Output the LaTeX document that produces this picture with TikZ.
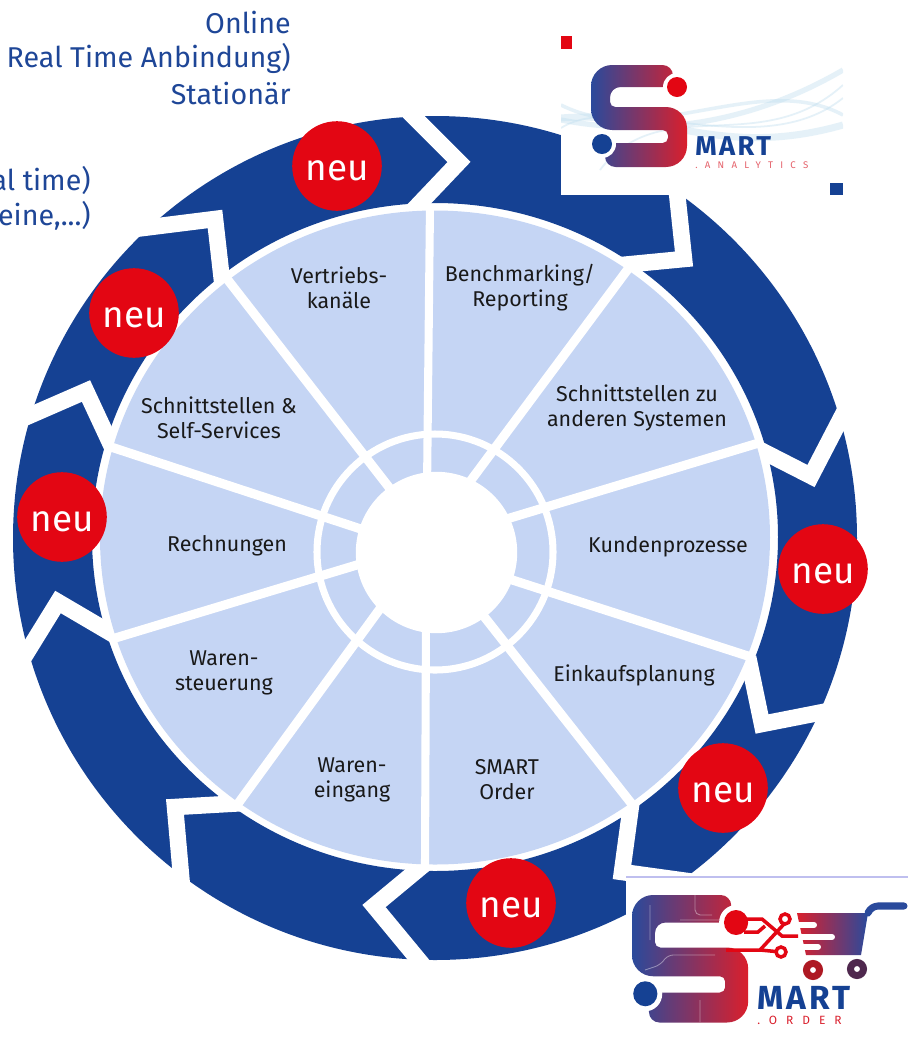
\documentclass[tikz,border=0pt]{standalone}
\usepackage{fontspec}
\setmainfont{Fira Sans}
\newfontfamily\logofont[LetterSpace=75]{Fira Sans}
\newfontfamily\martfont[LetterSpace=9]{Fira Sans}
\definecolor{ringblue}{HTML}{154193}
\definecolor{sectorblue}{HTML}{C5D5F4}
\definecolor{badgered}{HTML}{E30613}
\definecolor{headblue}{HTML}{1E4697}
\definecolor{logoblue}{HTML}{2A4A9C}
\definecolor{logored}{HTML}{DA1F2C}
\definecolor{wavecol}{HTML}{BFDDEE}
\tikzset{
  gap/.style={draw=white, line width=9.4pt, miter limit=10, shorten <=-8pt, shorten >=-8pt},
  spoke/.style={draw=white, line width=5.2pt},
  sector/.style={font=\fontsize{12.2}{14.2}\selectfont, text=black!90, align=center},
  badge/.style={circle, fill=badgered, text=white, minimum size=51pt, inner sep=0pt, font=\fontsize{21}{21}\selectfont},
  headline/.style={font=\fontsize{16.3}{20}\selectfont, text=headblue, anchor=east, inner sep=0pt},
  wave/.style={draw=wavecol, line width=#1, opacity=.4},
}
\newcommand{\logoS}{
  \path [left color=logoblue, right color=logored]
    [rounded corners=12pt] (82,0) -- (0,0) -- (0,65)
    [rounded corners=3pt] -- (77,65) -- (77,78)
    [rounded corners=6pt] -- (14,78) -- (14,102)
    [rounded corners=12pt] -- (96,102) -- (96,42)
    [rounded corners=3pt] -- (19,42)
    [rounded corners=6pt] -- (19,22) -- (82,22) -- cycle;
  \fill [white] (86,22) circle (14) (11,79) circle (14);
  \fill [badgered] (86,22) circle (10);
  \fill [ringblue] (11,79) circle (10);
}
\begin{document}
\begin{tikzpicture}[x=.02cm,y=-.02cm]
  \useasboundingbox (0,0) rectangle (908,1039);

  \fill [ringblue, even odd rule] (435,538) circle (422) (435,537) ellipse (343 and 334);
  \foreach \xa/\ya/\xb/\yb/\xc/\yc in {151/227/215/219/221/272, 414/117/459/162/421/202,
    677/193/684/259/632/264, 839/422/811/476/766/453, 818/713/762/724/751/671,
    680/880/622/872/630/813, 417/958/374/906/415/872, 181/875/175/807/227/804,
    29/649/58/602/104/629, 31/415/86/391/106/434}
    \draw [gap] (\xa,\ya) -- (\xb,\yb) -- (\xc,\yc);

  \fill [sectorblue] (435,537.5) ellipse (335 and 327);
  \draw [spoke, line width=4.6pt] (430,205) -- (427,490);
  \draw [spoke, line width=4.6pt] (425,868) -- (426,620);
  \foreach \xa/\ya/\xb/\yb in {631/265/460/495, 762/442/500/521, 751/657/500/576, 635/808/475/605,
    237/805/390/595, 112/639/370/561, 108/446/370/532, 224/275/395/495}
    \draw [spoke] (\xa,\ya) -- (\xb,\yb);
  \draw [white, line width=4pt] (435,552) circle (118);
  \fill [white] (436.5,552.5) circle (80.7);

  \node [sector] (vertrieb) at (339,288) {Vertriebs-\\kanäle};
  \node [sector] (reporting) at (520,288) {Benchmarking/\\Reporting};
  \node [sector] (systeme) at (637,408) {Schnittstellen zu\\anderen Systemen};
  \node [sector] (kunden) at (668,547) {Kundenprozesse};
  \node [sector] (einkauf) at (634,675) {Einkaufsplanung};
  \node [sector] (order) at (507,780) {SMART\\Order};
  \node [sector] (eingang) at (352,780) {Waren-\\eingang};
  \node [sector] (steuerung) at (224,673) {Waren-\\steuerung};
  \node [sector] (rechnung) at (227,546) {Rechnungen};
  \node [sector] (service) at (219,418) {Schnittstellen \&\\Self-Services};

  \foreach \x/\y [count=\n] in {337/166,134/313,62/517,823/569,723/788,511/903}
    \node [badge] (neu\n) at (\x,\y) {\raisebox{-8.5pt}[0pt][0pt]{neu}};

  \node [headline] (online) at (291,22) {Online};
  \node [headline] (anbindung) at (291,58) {Real Time Anbindung)};
  \node [headline] (stationaer) at (291,93) {Stationär};
  \node [headline] (realtime) at (91,180) {al time)};
  \node [headline] (scheine) at (91,216) {eine,...)};

  % analytics logo
  \fill [white] (561,36) rectangle (843,195);
  \begin{scope}
    \clip (561,36) rectangle (843,195);
    \draw [wave=3pt] (561,120) .. controls (640,135) and (740,130) .. (843,70);
    \draw [wave=2pt] (561,105) .. controls (650,150) and (760,70) .. (843,115);
    \draw [wave=4pt] (561,118) .. controls (660,110) and (720,160) .. (843,125);
    \draw [wave=1pt] (600,170) .. controls (660,90) and (760,160) .. (843,85);
    \draw [wave=1pt] (561,128) .. controls (620,90) and (760,165) .. (843,98);
  \end{scope}
  \fill [badgered] (561,36) rectangle (572,49);
  \fill [ringblue] (830,183) rectangle (843,195);
  \begin{scope}[shift={(591,65)}]
    \logoS
  \end{scope}
  \node [anchor=west, inner sep=0pt, text=ringblue, font=\martfont\fontsize{15.5}{15}\selectfont\bfseries] (mart) at (695,146) {MART};
  \node [anchor=west, inner sep=0pt, text=logored!70, font=\logofont\fontsize{5.5}{6}\selectfont] (analytics) at (695,165) {.ANALYTICS};

  % order logo
  \fill [white] (626,878) rectangle (908,1039);
  \draw [black!25!blue!25, line width=.6pt] (626,877) -- (908,877);
  \begin{scope}[shift={(632,895)},xscale=1.21,yscale=1.25]
    \logoS
  \end{scope}
  \draw [white, opacity=.4, line width=.5pt, rounded corners=3pt] (645,970) -- (660,965) -- (668,955) -- (715,955)
    (650,905) -- (650,940) (680,920) -- (720,920) (695,895) -- (695,915) -- (712,915) (700,1000) -- (700,1022);
  \path [left color=logored, right color=logoblue] (797,913) -- (868,913) -- (861,955) -- (806,955) -- cycle;
  \draw [logoblue, line width=4pt, line cap=round, rounded corners=4pt] (868,913) -- (871,906) -- (904,906);
  \draw [white, line width=3.4pt, line cap=round] (790,925) -- (814,925) (790,937) -- (832,937) (785,947) -- (818,947);
  \draw [badgered, line width=2pt] (745,919) -- (762,919) -- (782,936) -- (798,936);
  \draw [badgered, line width=2pt] (744,932) -- (758,932) -- (765,926);
  \draw [badgered, line width=2pt] (726,950) -- (760,950) -- (785,923);
  \draw [badgered, line width=2pt] (781,952) -- (760,950);
  \draw [badgered, line width=2pt, fill=white] (785,919) circle (5) (781,952) circle (5);
  \draw [logored!80!black, line width=4pt] (813,970) circle (6.5);
  \draw [logoblue!60!logored!70!black, line width=4pt] (857,969) circle (6.5);
  \node [anchor=west, inner sep=0pt, text=ringblue, font=\martfont\fontsize{19}{18}\selectfont\bfseries] (martb) at (757,998) {MART};
  \node [anchor=west, inner sep=0pt, text=logored, font=\logofont\fontsize{6.8}{7}\selectfont] (orderlogo) at (757,1020) {.ORDER};
\end{tikzpicture}
\end{document}
